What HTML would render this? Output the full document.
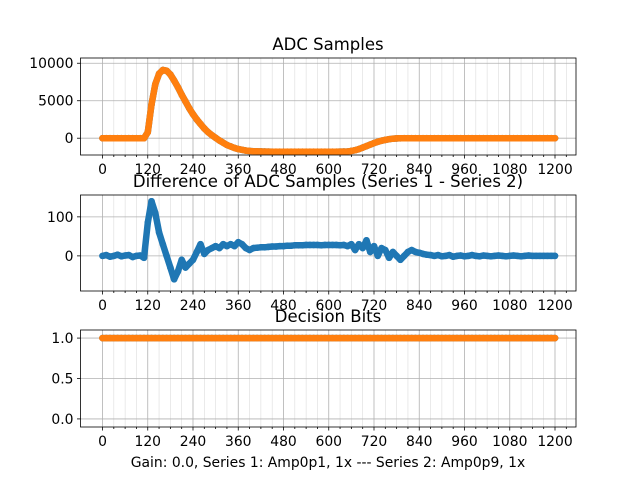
<!DOCTYPE html>
<html><head><meta charset="utf-8"><style>
body{margin:0;background:#fff}
svg{display:block;font-family:"DejaVu Sans","Liberation Sans",sans-serif}
</style></head><body>
<svg id="fig" width="640" height="480"></svg>
<script>
const xTicks=[0,120,240,360,480,600,720,840,960,1080,1200];
const adcX=[];for(let i=0;i<=120;i++)adcX.push(i*10);
const adcSeries=[0,0,0,0,0,0,0,0,0,0,0,0,
800,4500,7200,8600,9100,9000,8500,7700,6800,5800,4900,4000,3200,2500,1900,1300,800,400,50,-300,-600,-900,-1100,-1300,-1450,-1550,-1650,-1700,
-1750,-1760,-1770,-1780,-1790,-1800,-1800,-1800,-1800,-1800,-1800,-1800,-1800,-1800,-1800,-1800,-1800,-1800,-1800,-1800,-1800,-1800,-1800,-1790,-1780,
-1780,-1700,-1600,-1450,-1250,-1050,-850,-650,-480,-330,-220,-130,-70,-30,-10,
0,0,0,0,0,0,0,0,0,0,0,0,0,0,0,0,0,0,0,0,0,0,0,0,0,0,0,0,0,0,0,0,0,0,0,0,0,0,0,0,0];
const diffX=adcX;
const diffSeries=[0,2,-2,0,3,-1,1,2,-3,0,1,-5,
85,140,110,60,30,0,-30,-60,-40,-10,-30,-20,-10,10,30,5,15,20,25,20,30,25,30,25,35,30,20,15,
20,21,22,22,23,24,24,25,25,26,26,27,27,27,28,28,28,28,27,28,28,28,28,27,28,
25,30,15,30,20,40,10,25,0,20,15,-5,10,0,-10,
0,10,15,10,8,5,3,2,0,2,-1,0,2,-2,0,1,-1,0,2,0,-1,1,0,-1,0,1,0,-1,0,1,0,-1,0,1,0,0,0,0,0,0,0];
const bitsSeries=adcX.map(()=>1);
const adcYTicks=[0,5000,10000];
const diffYTicks=[0,100];
const bitYTicks=[0.0,0.5,1.0];

const NS="http://www.w3.org/2000/svg";
const svg=document.getElementById('fig');
function el(t,a,p){const e=document.createElementNS(NS,t);for(const k in a)e.setAttribute(k,a[k]);(p||svg).appendChild(e);return e;}
const L=80.5,R=576;
const sx=v=>102.5+v*(555-102.5)/1200;
function axes(name,top,bot,ymin,ymax,yticks,fmt,title,series){
  const g=el('g',{});
  
  
  const sy=v=>bot-(v-ymin)/(ymax-ymin)*(bot-top);
  for(let v=0;v<=1230;v+=30){const x=sx(v);if(x>R)break;
    const major=v%120===0;
    el('line',{x1:x,x2:x,y1:top,y2:bot,stroke:major?'#b0b0b0':'#dcdcdc','stroke-width':major?0.8:0.6},g);
    el('line',{x1:x,x2:x,y1:bot,y2:bot+(major?3.5:2),stroke:'#000','stroke-width':0.8},g);}
  xTicks.forEach(t=>{const tx=el('text',{x:sx(t),y:bot+19,'font-size':13.9,'text-anchor':'middle'},g);tx.textContent=t;
    });
  yticks.forEach(t=>{const y=sy(t);
    el('line',{x1:L,x2:R,y1:y,y2:y,stroke:'#b0b0b0','stroke-width':0.8},g);
    el('line',{x1:L-3.5,x2:L,y1:y,y2:y,stroke:'#000','stroke-width':0.8},g);
    const tx=el('text',{x:L-7,y:y+5,'font-size':13.9,'text-anchor':'end'},g);tx.textContent=fmt(t);
    });
  series.forEach(s=>{
    const pts=s.ys.map((v,i)=>sx(s.xs[i]).toFixed(1)+','+sy(v).toFixed(1)).join(' ');
    const pl=el('polyline',{points:pts,fill:'none',stroke:s.c,'stroke-width':6.5,'stroke-linejoin':'round','stroke-linecap':'round'},g);
    
    s.ys.forEach((v,i)=>{const c=el('circle',{cx:sx(s.xs[i]),cy:sy(v),r:3.3,fill:s.c},g);
      });
  });
  el('rect',{x:L,y:top,width:R-L,height:bot-top,fill:'none',stroke:'#000','stroke-width':0.8},g);
  const tt=el('text',{x:328,y:top-8,'font-size':16.5,'text-anchor':'middle'},g);tt.textContent=title;
  
}
axes('adc-samples-plot',58,155,-2240,10700,adcYTicks,t=>t,'ADC Samples',
 [{xs:adcX,ys:adcSeries,c:'#1f77b4',n:'series1'},{xs:adcX,ys:adcSeries,c:'#ff7f0e',n:'series2'}]);
axes('difference-plot',195,291,-90,156,diffYTicks,t=>t,'Difference of ADC Samples (Series 1 - Series 2)',
 [{xs:diffX,ys:diffSeries,c:'#1f77b4',n:'difference'}]);
axes('decision-bits-plot',330,427,-0.1,1.1,bitYTicks,t=>t.toFixed(1),'Decision Bits',
 [{xs:adcX,ys:bitsSeries,c:'#1f77b4',n:'bits1'},{xs:adcX,ys:bitsSeries,c:'#ff7f0e',n:'bits2'}]);
const xl=el('text',{x:328,y:467,'font-size':13.9,'text-anchor':'middle'});
xl.textContent='Gain: 0.0, Series 1: Amp0p1, 1x --- Series 2: Amp0p9, 1x';


</script>
</body></html>
